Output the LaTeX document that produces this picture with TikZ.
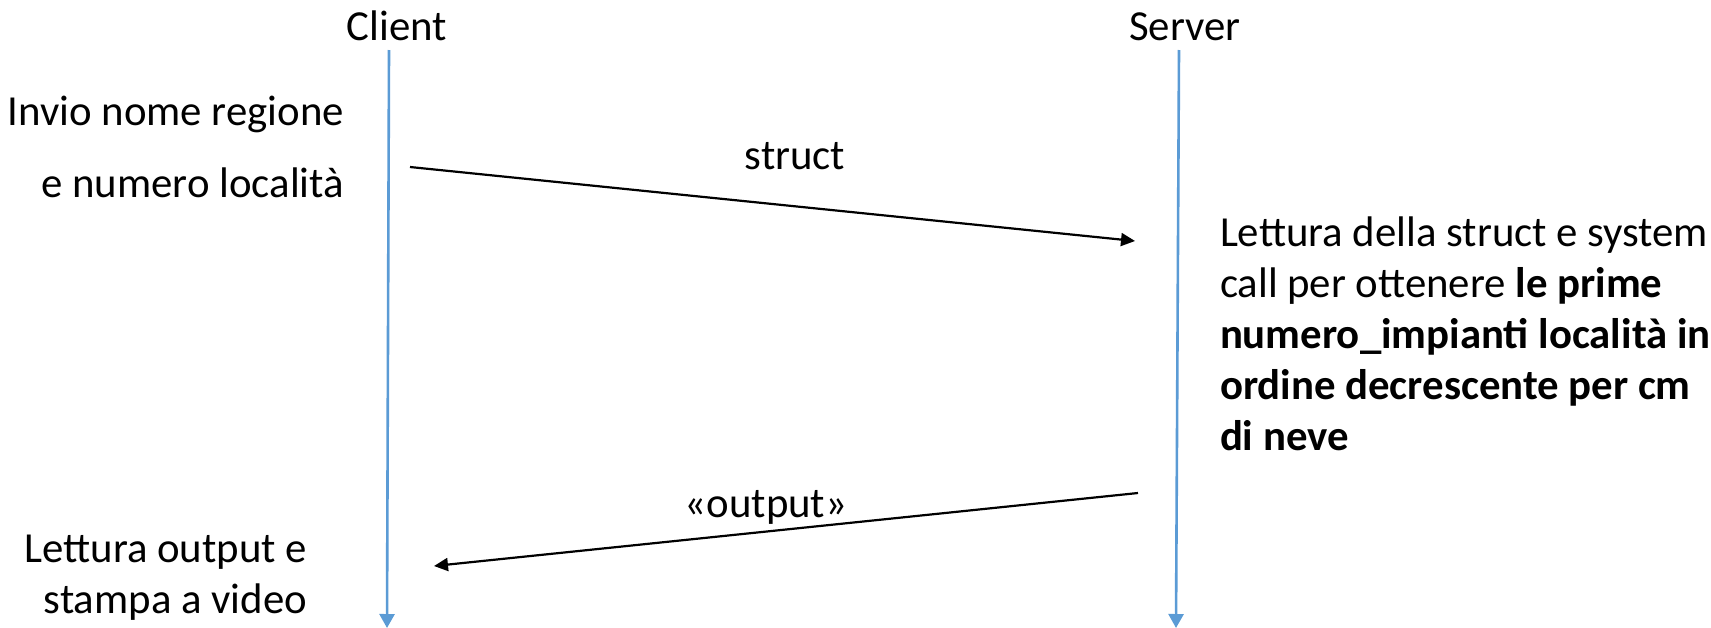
\documentclass[tikz,border=0pt]{standalone}
\usepackage{fontspec}
\setmainfont{Carlito}
\usetikzlibrary{arrows.meta}
\definecolor{lifeblue}{HTML}{5B9BD5}
\begin{document}
\begin{tikzpicture}[x=1pt,y=-1pt,
  every node/.style={inner sep=0pt,outer sep=0pt,font=\fontsize{42.8}{51}\selectfont},
  lifeline/.style={draw=lifeblue,line width=2.6pt,-{Triangle[length=14pt,width=15pt]}},
  msg/.style={draw=black,line width=2.2pt,-{Triangle[length=14pt,width=13pt]}}]
\useasboundingbox (0,0) rectangle (1711,627);

% participants
\node[anchor=base] (client) at (397,40) {Client};
\node[anchor=base] (server) at (1185,40) {Server};

% lifelines
\coordinate (cTop) at (389,50);
\coordinate (cBot) at (387,628);
\coordinate (sTop) at (1179,50);
\coordinate (sBot) at (1176,628);
\draw[lifeline] (cTop) -- (cBot);
\draw[lifeline] (sTop) -- (sBot);

% client actions
\node[anchor=base east] (send1) at (344,125) {Invio nome regione};
\node[anchor=base east] (send2) at (344,197) {e numero località};
\node[anchor=base east] (read1) at (307,562) {Lettura output e};
\node[anchor=base east] (read2) at (307,613) {stampa a video};

% server action (base anchor sits on the last line)
\node[anchor=base west,align=left] (proc) at (1220,450)
  {Lettura della struct e system\\
   call per ottenere \textbf{le prime}\\
   \textbf{numero\_impianti località in}\\
   \textbf{ordine decrescente per cm}\\
   \textbf{di neve}};

% messages
\coordinate (m1s) at (410,167);
\coordinate (m1e) at (1135,241);
\coordinate (m2s) at (1138,493);
\coordinate (m2e) at (434,566);
\draw[msg] (m1s) -- (m1e);
\draw[msg] (m2s) -- (m2e);
\node[anchor=base] (lblstruct) at (795,169) {struct};
\node[anchor=base] (lbloutput) at (766,517) {«output»};
\end{tikzpicture}
\end{document}
